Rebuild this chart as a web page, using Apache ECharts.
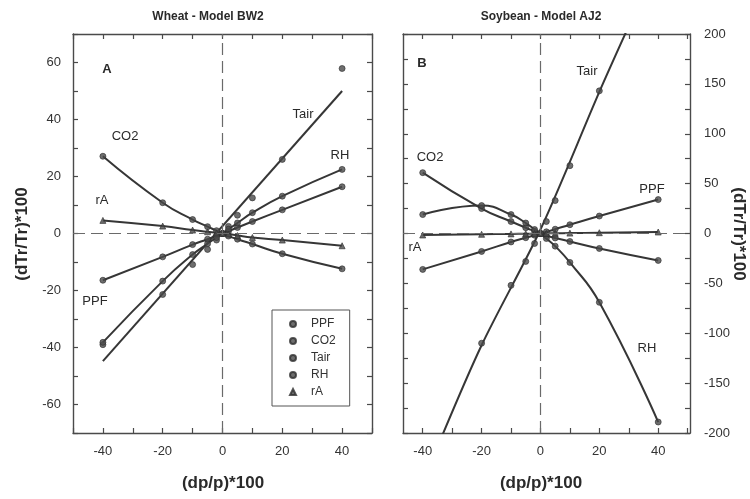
<!DOCTYPE html>
<html>
<head>
<meta charset="utf-8">
<script src="https://cdn.jsdelivr.net/npm/echarts@6/dist/echarts.min.js"></script>
<style>
  html, body { margin: 0; padding: 0; background: #fff; }
  #chart { width: 750px; height: 499px; }
</style>
</head>
<body>
<div id="chart"></div>
<script>
// Relative change of parameter p, percent
const dpLevels = [-40, -20, -10, -5, -2, 0, 2, 5, 10, 20, 40];

// Wheat - Model BW2: relative change of transpiration, percent
const wheatPPF  = [-16.4, -8.2, -3.9, -2.0, -0.8, 0, 0.8, 2.1, 4.2, 8.3, 16.4];
const wheatCO2  = [27.1, 10.8, 4.9, 2.4, 1.0, 0, -0.9, -2.0, -3.7, -7.1, -12.4];
const wheatTair = [-39.0, -21.4, -10.9, -5.6, -2.3, 0, 2.5, 6.4, 12.5, 26.0, 57.9];
const wheatRH   = [-38.2, -16.7, -7.4, -3.6, -1.4, 0, 1.5, 3.7, 7.3, 13.1, 22.5];
const wheatRA   = [4.6, 2.6, 1.2, 0.6, 0.2, 0, -0.2, -0.7, -1.4, -2.3, -4.3];
// straight-line fit drawn for Tair
const wheatTairFitX = [-40, 40];
const wheatTairFit  = [-44.8, 50.0];

// Soybean - Model AJ2 (Tair at +/-40 lies beyond the axis range)
const soyPPF  = [-36, -18, -8.5, -4.2, -1.7, 0, 1.7, 4.3, 8.8, 17.5, 34];
const soyCO2  = [61, 25, 12, 5.8, 2.3, 0, -2.2, -4.5, -8, -15, -27];
const soyTair = [null, -110, -52, -28, -10, 0, 12, 33, 68, 143, null];
const soyRH   = [19, 28, 19, 10.5, 4, 0, -5, -12.7, -29, -69, -189];
const soyRA   = [-1.5, -0.8, -0.4, -0.2, -0.1, 0, 0.1, 0.2, 0.4, 0.8, 1.5];
const soyTairFitX = [-35, -20, 0, 20, 30];
const soyTairFit  = [-214, -112, 4, 142, 208];

// Axis ticks and labels
const wheatYLabels = [-60, -40, -20, 0, 20, 40, 60];
const soyYLabels = [-200, -150, -100, -50, 0, 50, 100, 150, 200];
const xLabels = [-40, -20, 0, 20, 40];
const soyXTicks = [-40, -30, -20, -10, 0, 10, 20, 30, 40, 50];

const seriesNames = ['PPF', 'CO2', 'Tair', 'RH', 'rA'];

function pairs(xs, ys) {
  return xs.map((x, i) => [x, ys[i]]).filter(p => p[1] !== null && p[1] !== undefined);
}

const INK = '#363636';
const FONT = '"Liberation Sans", Arial, sans-serif';

const boxLine = { show: true, onZero: false, lineStyle: { color: '#4a4a4a', width: 1.4 } };
const tick = { show: true, inside: true, length: 5, lineStyle: { color: '#4a4a4a', width: 1.2 } };
const labelStyle = { color: '#333', fontSize: 13, fontFamily: FONT };

function axisDef(grid, pos, showLabels, range, extra) {
  return Object.assign({
    type: 'value', gridIndex: grid, position: pos,
    min: range[0], max: range[1],
    axisLine: boxLine, axisTick: tick, splitLine: { show: false },
    axisLabel: Object.assign({ show: showLabels, margin: 12 }, labelStyle)
  }, extra || {});
}

const wheatXLab = v => xLabels.indexOf(v) >= 0 ? String(v) : '';
const wheatYLab = v => wheatYLabels.indexOf(v) >= 0 ? String(v) : '';
const soyYLab = v => soyYLabels.indexOf(v) >= 0 ? String(v) : '';

const xAxes = [
  axisDef(0, 'bottom', true, [-50, 50], { interval: 10 }),
  axisDef(0, 'top', false, [-50, 50], { interval: 10 }),
  axisDef(1, 'bottom', true, [-46.7, 50.8]),
  axisDef(1, 'top', false, [-46.7, 50.8])
];
xAxes[0].axisLabel.formatter = wheatXLab;
xAxes[2].axisTick = Object.assign({}, tick, { customValues: soyXTicks });
xAxes[2].axisLabel.customValues = xLabels;
xAxes[3].axisTick = Object.assign({}, tick, { customValues: soyXTicks });

const yAxes = [
  axisDef(0, 'left', true, [-70, 70], { interval: 10 }),
  axisDef(0, 'right', false, [-70, 70], { interval: 10 }),
  axisDef(1, 'left', false, [-200, 200], { interval: 25 }),
  axisDef(1, 'right', true, [-200, 200], { interval: 25 })
];
yAxes[0].axisLabel.formatter = wheatYLab;
yAxes[3].axisLabel.formatter = soyYLab;
yAxes[3].axisLabel.margin = 14;

const zeroLines = {
  silent: true, symbol: 'none', label: { show: false },
  lineStyle: { type: [12, 6], color: '#6a6a6a', width: 1.2 },
  data: [{ xAxis: 0 }, { yAxis: 0 }]
};

function curve(name, xi, yi, data, withZero, smooth) {
  const s = {
    name: name, type: 'line', xAxisIndex: xi, yAxisIndex: yi,
    data: data, showSymbol: false, smooth: smooth,
    lineStyle: { color: INK, width: 2 }, itemStyle: { color: INK },
    z: 3, silent: true
  };
  if (withZero) s.markLine = zeroLines;
  return s;
}
function dots(name, xi, yi, data) {
  const tri = name === 'rA';
  return {
    name: name, type: 'scatter', xAxisIndex: xi, yAxisIndex: yi,
    data: data, symbol: tri ? 'triangle' : 'circle', symbolSize: 6,
    itemStyle: { color: '#4a4a4a', borderColor: '#2e2e2e', borderWidth: 0.8 },
    z: 4, silent: true
  };
}

const wheatSets = { PPF: wheatPPF, CO2: wheatCO2, Tair: wheatTair, RH: wheatRH, rA: wheatRA };
const soySets = { PPF: soyPPF, CO2: soyCO2, Tair: soyTair, RH: soyRH, rA: soyRA };

const series = [];
// Wheat panel
seriesNames.forEach((n, i) => {
  if (n === 'Tair') {
    series.push(curve('Tair fit wheat', 0, 0, pairs(wheatTairFitX, wheatTairFit), false, false));
  } else {
    series.push(curve(n + ' curve wheat', 0, 0, pairs(dpLevels, wheatSets[n]), i === 0, 0.5));
  }
});
// Soybean panel
seriesNames.forEach((n, i) => {
  if (n === 'Tair') {
    series.push(curve('Tair fit soybean', 2, 2, pairs(soyTairFitX, soyTairFit), false, 0.3));
  } else {
    series.push(curve(n + ' curve soybean', 2, 2, pairs(dpLevels, soySets[n]), i === 0, 0.5));
  }
});
seriesNames.forEach(n => series.push(dots(n, 0, 0, pairs(dpLevels, wheatSets[n]))));
seriesNames.forEach(n => series.push(dots(n, 2, 2, pairs(dpLevels, soySets[n]))));

function txt(text, x, y, opts) {
  opts = opts || {};
  return {
    type: 'text', x: x, y: y, rotation: opts.rotation || 0, z: 10, silent: true,
    style: {
      text: text, fill: opts.fill || '#2a2a2a',
      font: (opts.weight || 'normal') + ' ' + (opts.size || 13) + 'px ' + FONT,
      align: 'center', verticalAlign: 'middle',
      textAlign: 'center', textVerticalAlign: 'middle'
    }
  };
}

const graphics = [
  txt('Wheat - Model BW2', 208, 17, { weight: 'bold', size: 12 }),
  txt('Soybean - Model AJ2', 541, 17, { weight: 'bold', size: 12 }),
  txt('(dp/p)*100', 223, 483, { weight: 'bold', size: 17 }),
  txt('(dp/p)*100', 541, 483, { weight: 'bold', size: 17 }),
  txt('(dTr/Tr)*100', 22, 234, { weight: 'bold', size: 17, rotation: Math.PI / 2 }),
  txt('(dTr/Tr)*100', 739, 234, { weight: 'bold', size: 17, rotation: -Math.PI / 2 }),
  txt('A', 107, 69, { weight: 'bold', size: 13 }),
  txt('B', 422, 63, { weight: 'bold', size: 13 }),
  txt('CO2', 125, 136), txt('Tair', 303, 114), txt('RH', 340, 155),
  txt('rA', 102, 200), txt('PPF', 95, 301),
  txt('Tair', 587, 71), txt('CO2', 430, 157), txt('PPF', 652, 189),
  txt('rA', 415, 247), txt('RH', 647, 348)
];

const chart = echarts.init(document.getElementById('chart'), null, { renderer: 'canvas' });
chart.setOption({
  animation: false,
  backgroundColor: '#fff',
  textStyle: { fontFamily: FONT },
  grid: [
    { left: 73, top: 34, width: 299, height: 399, containLabel: false, outerBoundsMode: 'none' },
    { left: 403, top: 34, width: 287, height: 399, containLabel: false, outerBoundsMode: 'none' }
  ],
  xAxis: xAxes,
  yAxis: yAxes,
  legend: {
    left: 272, top: 310, orient: 'vertical',
    selectedMode: false,
    itemWidth: 6, itemHeight: 6, itemGap: 5,
    padding: [8, 14, 8, 17],
    borderColor: '#555', borderWidth: 1, borderRadius: 0,
    textStyle: { color: '#333', fontSize: 12, fontFamily: FONT, padding: [0, 0, 0, 10] },
    data: [
      { name: 'PPF', icon: 'circle' },
      { name: 'CO2', icon: 'circle' },
      { name: 'Tair', icon: 'circle' },
      { name: 'RH', icon: 'circle' },
      { name: 'rA', icon: 'triangle' }
    ]
  },
  graphic: graphics,
  series: series
});
</script>
</body>
</html>
